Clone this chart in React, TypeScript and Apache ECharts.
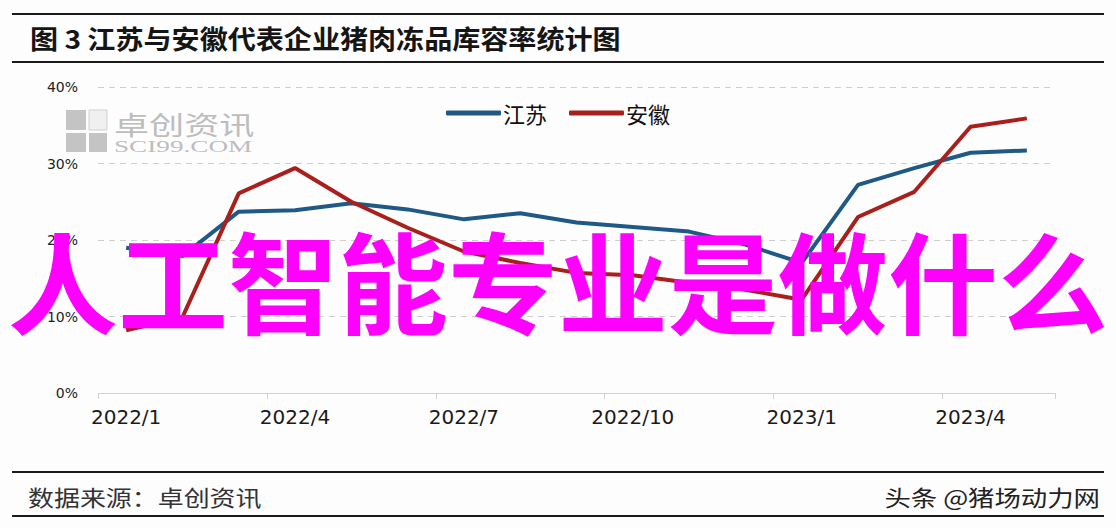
import React, { useEffect, useRef } from "react";
import * as echarts from "echarts";

const months: string[] = [
  "2022/1", "2022/2", "2022/3", "2022/4", "2022/5", "2022/6", "2022/7", "2022/8", "2022/9",
  "2022/10", "2022/11", "2022/12", "2023/1", "2023/2", "2023/3", "2023/4", "2023/5",
];
const jiangsu: number[] = [19.0, 17.9, 23.7, 23.9, 24.8, 24.0, 22.7, 23.5, 22.3, 21.7, 21.1, 19.4, 17.0, 27.2, 29.4, 31.4, 31.7];
const anhui: number[] = [8.2, 9.9, 26.1, 29.4, 25.0, 21.6, 18.5, 17.0, 15.7, 15.4, 14.4, 13.5, 12.2, 23.0, 26.3, 34.8, 35.9];
const seriesNames: string[] = ["江苏", "安徽"];
const yTicks = { min: 0, max: 40, interval: 10 };

const titleText = "图 3 江苏与安徽代表企业猪肉冻品库容率统计图";
const sourceText = "数据来源：卓创资讯";
const creditText = "头条 @猪场动力网";
const overlayText = "人工智能专业是做什么";

const CJK = "'Noto Sans CJK SC', 'Noto Sans', sans-serif";

export default function App() {
  const ref = useRef<HTMLDivElement>(null);
  useEffect(() => {
    if (!ref.current) return;
    const chart = echarts.init(ref.current, undefined, { renderer: "svg" });
    chart.setOption({
      animation: false,
      backgroundColor: "#fdfdfe",
      grid: { left: 98, right: 61, top: 87, bottom: 135 },
      legend: {
        top: 97,
        left: "center",
        itemWidth: 55,
        itemHeight: 5,
        itemGap: 22,
        icon: "roundRect",
        textStyle: { fontSize: 22, color: "#111", fontFamily: CJK, padding: [0, 0, 0, -3] },
        data: seriesNames,
      },
      xAxis: {
        type: "category",
        data: months,
        boundaryGap: true,
        axisLine: { show: true, lineStyle: { color: "#d2d2d2", width: 1 } },
        axisTick: { show: true, interval: 2, length: 6, lineStyle: { color: "#d2d2d2" } },
        axisLabel: {
          interval: 2,
          margin: 14,
          fontSize: 20,
          color: "#1a1a1a",
          fontFamily: "'DejaVu Sans', sans-serif",
        },
      },
      yAxis: {
        type: "value",
        min: yTicks.min,
        max: yTicks.max,
        interval: yTicks.interval,
        axisLine: { show: false },
        axisTick: { show: false },
        axisLabel: {
          formatter: "{value}%",
          fontSize: 14,
          margin: 20,
          color: "#222",
          fontFamily: "'DejaVu Sans', sans-serif",
        },
        splitLine: { show: true, lineStyle: { color: "#cfcfcf", type: [6, 5], width: 1 } },
      },
      series: [
        {
          name: seriesNames[0],
          type: "line",
          data: jiangsu,
          symbol: "none",
          lineStyle: { width: 4, color: "#1f5a86" },
          itemStyle: { color: "#1f5a86" },
        },
        {
          name: seriesNames[1],
          type: "line",
          data: anhui,
          symbol: "none",
          lineStyle: { width: 4, color: "#a81f1c" },
          itemStyle: { color: "#a81f1c" },
        },
      ],
      graphic: [
        { type: "line", shape: { x1: 12, y1: 14, x2: 1104, y2: 14 }, style: { stroke: "#1a1a1a", lineWidth: 2 } },
        { type: "line", shape: { x1: 12, y1: 62, x2: 1104, y2: 62 }, style: { stroke: "#1a1a1a", lineWidth: 2 } },
        {
          type: "text",
          x: 30,
          y: 38,
          scaleX: 1.08,
          style: {
            text: titleText,
            fontSize: 26,
            fontWeight: "bold",
            fontFamily: CJK,
            fill: "#151515",
            verticalAlign: "middle",
            align: "left",
          },
        },
        { type: "line", shape: { x1: 12, y1: 472, x2: 1104, y2: 472 }, style: { stroke: "#1a1a1a", lineWidth: 2 } },
        { type: "line", shape: { x1: 12, y1: 516, x2: 1104, y2: 516 }, style: { stroke: "#1a1a1a", lineWidth: 2 } },
        {
          type: "text",
          x: 28,
          y: 496,
          scaleX: 1.18,
          style: {
            text: sourceText,
            fontSize: 22,
            fontFamily: CJK,
            fill: "#333",
            verticalAlign: "middle",
            align: "left",
          },
        },
        {
          type: "text",
          x: 1100,
          y: 496,
          scaleX: 1.2,
          style: {
            text: creditText,
            fontSize: 22,
            fontFamily: CJK,
            fill: "#222",
            verticalAlign: "middle",
            align: "right",
          },
        },
        // watermark logo
        { type: "rect", shape: { x: 66, y: 110, width: 20, height: 20 }, style: { fill: "#c4c4c4" } },
        { type: "rect", shape: { x: 89, y: 110, width: 18, height: 20 }, style: { fill: "#f0f0f0", stroke: "#d0d0d0", lineWidth: 1 } },
        { type: "rect", shape: { x: 66, y: 133, width: 20, height: 19 }, style: { fill: "#c4c4c4" } },
        { type: "rect", shape: { x: 89, y: 133, width: 18, height: 19 }, style: { fill: "#c4c4c4" } },
        {
          type: "text",
          x: 114,
          y: 124,
          scaleX: 1.35,
          style: {
            text: "卓创资讯",
            fontSize: 26,
            fontFamily: CJK,
            fill: "#bdbdbd",
            verticalAlign: "middle",
            align: "left",
          },
        },
        {
          type: "text",
          x: 114,
          y: 146,
          scaleX: 1.6,
          style: {
            text: "SCI99.COM",
            fontSize: 17,
            fontFamily: "'Liberation Serif', 'DejaVu Serif', serif",
            fill: "#bdbdbd",
            verticalAlign: "middle",
            align: "left",
          },
        },
        {
          type: "text",
          x: 558,
          y: 278,
          z: 100,
          style: {
            text: overlayText,
            fontSize: 110,
            fontWeight: "bold",
            fontFamily: CJK,
            fill: "#ff00ff",
            verticalAlign: "middle",
            align: "center",
          },
        },
      ],
    });
    return () => chart.dispose();
  }, []);
  return <div ref={ref} style={{ position: "fixed", left: 0, top: 0, width: 1116, height: 528 }} />;
}
